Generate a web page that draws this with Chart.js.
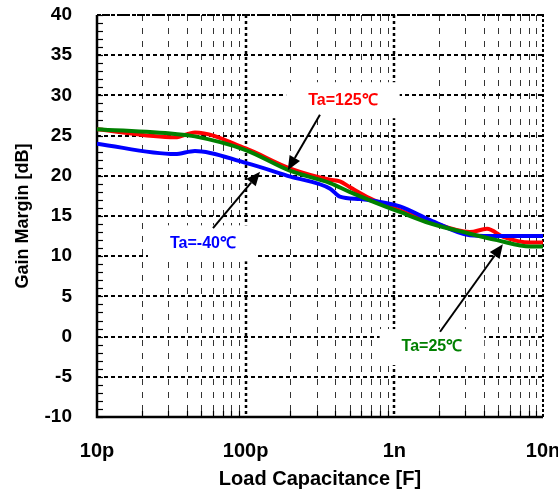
<!DOCTYPE html>
<html>
<head>
<meta charset="utf-8">
<script src="https://cdn.jsdelivr.net/npm/chart.js@4/dist/chart.umd.min.js"></script>
<style>
  html, body { margin:0; padding:0; background:#fff; }
  canvas { display:block; }
</style>
</head>
<body>
<canvas id="c" width="558" height="492"></canvas>
<script>
/* ============================
   Gain margin vs load capacitance
============================ */
// capacitance in pF
const capRed   = [10, 33.5, 45.6, 100, 200, 370, 430, 500, 685, 1090, 1740, 3220, 4200, 5400, 8200, 10000];
const gmRed    = [25.8, 24.8, 25.4, 23.4, 20.9, 19.5, 19.3, 18.6, 17.2, 15.7, 14.3, 13.0, 13.4, 12.4, 11.7, 11.7];
const capGreen = [10, 33.5, 45.6, 100, 200, 370, 500, 718, 1090, 1740, 3220, 4900, 8200, 10000];
const gmGreen  = [25.8, 25.2, 24.9, 23.2, 20.6, 19.1, 18.0, 16.8, 15.5, 14.1, 12.8, 12.0, 11.2, 11.2];
const capBlue  = [10, 33.5, 45.6, 100, 200, 370, 430, 590, 718, 1090, 1740, 3220, 4400, 10000];
const gmBlue   = [24.0, 22.7, 23.1, 21.6, 19.9, 18.4, 17.4, 17.1, 16.9, 16.2, 14.5, 12.6, 12.5, 12.5];

const xMajor = [10, 100, 1000, 10000];
const xMajorLabels = ['10p', '100p', '1n', '10n'];
const xMinor = [20,30,40,50,60,70,80,90, 200,300,400,500,600,700,800,900, 2000,3000,4000,5000,6000,7000,8000,9000];
const yMajor = [-10,-5,0,5,10,15,20,25,30,35,40];

// labels + arrows, in data units (pF, dB)
const notes = [
  { text:'Ta=125\u2103', color:'#ff0000', at:[451, 29.4], from:[316, 27.6], to:[192, 20.7] },
  { text:'Ta=-40\u2103', color:'#0000ff', at:[51.6, 11.6], from:[60.3, 13.5], to:[125, 20.5] },
  { text:'Ta=25\u2103',  color:'#008000', at:[1790, -1.3], from:[2030, 0.6], to:[5370, 11.5] }
];

const pts = (xs, ys) => xs.map((x,i)=>({x:x*1e-12, y:ys[i]}));
const FONT = '"Liberation Sans", Arial, sans-serif';

const decor = {
  id:'decor',
  beforeDatasetsDraw(chart){
    const {ctx, chartArea:a, scales:{x, y}} = chart;
    ctx.save();
    // minor verticals
    ctx.lineWidth = 1; ctx.setLineDash([6,7]); ctx.strokeStyle = '#333';
    xMinor.forEach(v=>{ const px = Math.round(x.getPixelForValue(v*1e-12))+0.5;
      ctx.beginPath(); ctx.moveTo(px, a.top); ctx.lineTo(px, a.bottom); ctx.stroke(); });
    // major horizontals
    ctx.strokeStyle = '#000'; ctx.lineWidth = 2; ctx.setLineDash([4,3]);
    yMajor.forEach(v=>{ const py = Math.round(y.getPixelForValue(v));
      ctx.beginPath(); ctx.moveTo(a.left, py); ctx.lineTo(a.right, py); ctx.stroke(); });
    // major verticals
    ctx.lineWidth = 2.5; ctx.setLineDash([3,3]);
    xMajor.slice(1,3).forEach(v=>{ const px = Math.round(x.getPixelForValue(v*1e-12));
      ctx.beginPath(); ctx.moveTo(px, a.top); ctx.lineTo(px, a.bottom); ctx.stroke(); });
    // white boxes under the labels
    ctx.setLineDash([]);
    ctx.font = 'bold 16px ' + FONT;
    notes.forEach(n=>{
      const cx = x.getPixelForValue(n.at[0]*1e-12), cy = y.getPixelForValue(n.at[1]);
      const w = ctx.measureText(n.text).width + 44;
      ctx.fillStyle = '#fff'; ctx.fillRect(cx - w/2, cy - 18, w, 36);
    });
    // minor ticks
    ctx.strokeStyle = '#000'; ctx.lineWidth = 1.2;
    for(let v=-10; v<=40; v++){ const py = Math.round(y.getPixelForValue(v))+0.5;
      ctx.beginPath(); ctx.moveTo(a.left, py); ctx.lineTo(a.left+6, py); ctx.stroke(); }
    xMinor.forEach(v=>{ const px = Math.round(x.getPixelForValue(v*1e-12))+0.5;
      ctx.beginPath(); ctx.moveTo(px, a.bottom); ctx.lineTo(px, a.bottom-6); ctx.stroke(); });
    // frame
    ctx.lineWidth = 2; ctx.setLineDash([3,2]);
    ctx.beginPath(); ctx.moveTo(a.left, a.top); ctx.lineTo(a.right, a.top); ctx.lineTo(a.right, a.bottom); ctx.stroke();
    ctx.setLineDash([]); ctx.lineWidth = 2.5;
    ctx.beginPath(); ctx.moveTo(a.left, a.top); ctx.lineTo(a.left, a.bottom); ctx.lineTo(a.right, a.bottom); ctx.stroke();
    ctx.restore();
  },
  afterDatasetsDraw(chart){
    const {ctx, scales:{x, y}} = chart;
    ctx.save();
    notes.forEach(n=>{
      const x0 = x.getPixelForValue(n.from[0]*1e-12), y0 = y.getPixelForValue(n.from[1]);
      const x1 = x.getPixelForValue(n.to[0]*1e-12), y1 = y.getPixelForValue(n.to[1]);
      const ang = Math.atan2(y1-y0, x1-x0), hl = 14, hw = 6;
      const bx = x1 - hl*Math.cos(ang), by = y1 - hl*Math.sin(ang);
      ctx.strokeStyle = '#000'; ctx.fillStyle = '#000'; ctx.lineWidth = 2;
      ctx.beginPath(); ctx.moveTo(x0, y0); ctx.lineTo(bx, by); ctx.stroke();
      ctx.beginPath(); ctx.moveTo(x1, y1);
      ctx.lineTo(bx + hw*Math.sin(ang), by - hw*Math.cos(ang));
      ctx.lineTo(bx - hw*Math.sin(ang), by + hw*Math.cos(ang));
      ctx.closePath(); ctx.fill();
      ctx.font = 'bold 16px ' + FONT; ctx.fillStyle = n.color;
      ctx.textAlign = 'center'; ctx.textBaseline = 'middle';
      ctx.fillText(n.text, x.getPixelForValue(n.at[0]*1e-12), y.getPixelForValue(n.at[1]));
    });
    ctx.restore();
  }
};

const line = (label, data, color) => ({
  label, data, borderColor: color, backgroundColor: color, borderWidth: 4,
  pointRadius: 0, cubicInterpolationMode: 'monotone', fill: false
});

new Chart(document.getElementById('c').getContext('2d'), {
  type: 'line',
  data: { datasets: [
    line('Ta=25\u2103', pts(capGreen, gmGreen), '#008000'),
    line('Ta=-40\u2103', pts(capBlue, gmBlue), '#0000ff'),
    line('Ta=125\u2103', pts(capRed, gmRed), '#ff0000')
  ]},
  options: {
    responsive: false, animation: false,
    layout: { padding: { top: 15, right: 15, left: 0, bottom: 0 } },
    plugins: { legend: { display: false }, tooltip: { enabled: false } },
    scales: {
      x: {
        type: 'logarithmic', min: 1e-11, max: 1e-8,
        grid: { display: false }, border: { display: false },
        afterBuildTicks: s => { s.ticks = xMajor.map(v=>({ value: v*1e-12 })); },
        afterFit: s => { s.height = 75; s.paddingLeft = 0; s.paddingRight = 0; },
        ticks: { autoSkip: false, maxRotation: 0, padding: 14, color: '#000',
          font: { family: FONT, size: 20, weight: 'bold' },
          callback: (v, i) => xMajorLabels[i] },
        title: { display: true, text: 'Load Capacitance [F]', color: '#000',
          font: { family: FONT, size: 20, weight: 'bold' }, padding: { top: 0, bottom: 1 } }
      },
      y: {
        min: -10, max: 40,
        grid: { display: false }, border: { display: false },
        afterFit: s => { s.width = 97; s.paddingTop = 0; s.paddingBottom = 0; },
        ticks: { stepSize: 5, padding: 17, color: '#000',
          font: { family: FONT, size: 19, weight: 'bold' } },
        title: { display: true, text: 'Gain Margin [dB]', color: '#000',
          font: { family: FONT, size: 18, weight: 'bold' }, padding: { top: 12, bottom: 0 } }
      }
    }
  },
  plugins: [decor]
});
</script>
</body>
</html>
